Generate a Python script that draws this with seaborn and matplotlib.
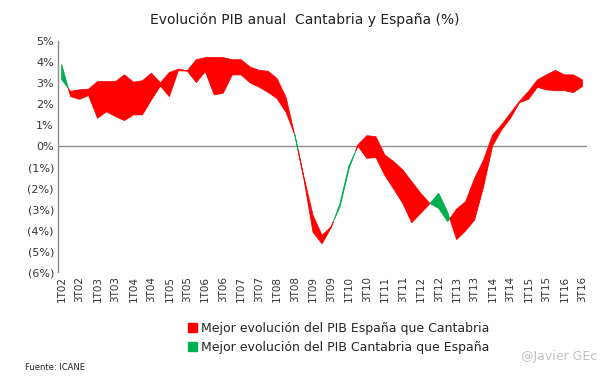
import numpy as np
import pandas as pd
import matplotlib
matplotlib.use("Agg")
import matplotlib.pyplot as plt
import seaborn as sns
from matplotlib.patches import Patch

# Quarterly YoY GDP growth (%), 1T02 .. 3T16
quarters = [f"{q}T{y:02d}" for y in range(2, 17) for q in (1, 2, 3, 4)][:59]

espana = [3.15, 2.60, 2.67, 2.70, 3.06, 3.06, 3.06, 3.38, 3.03, 3.10,
          3.46, 3.00, 3.49, 3.65, 3.58, 4.10, 4.20, 4.20, 4.20, 4.10,
          4.10, 3.75, 3.60, 3.55, 3.20, 2.30, 0.45, -1.50, -3.30, -4.25,
          -3.85, -2.90, -1.10, 0.05, 0.49, 0.44, -0.43, -0.75, -1.14, -1.70,
          -2.25, -2.73, -2.97, -3.60, -3.00, -2.65, -1.54, -0.67, 0.52, 1.00,
          1.56, 2.12, 2.59, 3.14, 3.38, 3.59, 3.38, 3.38, 3.14]

cantabria = [3.88, 2.35, 2.22, 2.40, 1.32, 1.63, 1.40, 1.21, 1.48, 1.48,
             2.19, 2.85, 2.35, 3.58, 3.56, 3.02, 3.54, 2.43, 2.51, 3.38,
             3.38, 3.00, 2.80, 2.55, 2.25, 1.60, 0.50, -1.60, -4.10, -4.65,
             -3.90, -2.75, -0.95, 0.00, -0.59, -0.54, -1.40, -2.05, -2.73, -3.65,
             -3.20, -2.75, -2.25, -3.15, -4.45, -4.03, -3.52, -1.94, 0.00, 0.76,
             1.32, 2.06, 2.22, 2.79, 2.67, 2.63, 2.63, 2.54, 2.83]

df = pd.DataFrame({"trimestre": quarters, "espana": espana, "cantabria": cantabria})
df["x"] = np.arange(len(df))

red = "#ff0000"
green = "#00b050"

sns.set_theme(style="white")
plt.rcParams["font.family"] = ["DejaVu Sans"]

fig = plt.figure(figsize=(6.05, 3.78), dpi=100)
ax = fig.add_axes([0.096, 0.280, 0.874, 0.612])

ax.fill_between(df["x"], df["espana"], df["cantabria"],
                where=df["espana"] >= df["cantabria"], interpolate=True,
                facecolor=red, edgecolor=red, linewidth=0.6)
ax.fill_between(df["x"], df["espana"], df["cantabria"],
                where=df["cantabria"] > df["espana"], interpolate=True,
                facecolor=green, edgecolor=green, linewidth=0.6)

ax.axhline(0, color="#8c8c8c", lw=1, zorder=0)

ax.set_xlim(-0.4, 58.5)
ax.set_ylim(-6, 5)
ax.set_yticks(range(-6, 6))
ax.set_yticklabels([f"({abs(v)}%)" if v < 0 else f"{v}%" for v in range(-6, 6)],
                   fontsize=8, color="#333333")
ax.set_xticks(df["x"][::2])
ax.set_xticklabels(df["trimestre"][::2], rotation=90, fontsize=7.5, color="#333333")
ax.tick_params(axis="both", length=0, pad=3)
ax.set_xlabel("")
ax.set_ylabel("")

sns.despine(ax=ax, top=True, right=True, bottom=True)
ax.spines["left"].set_color("#8c8c8c")
ax.spines["left"].set_linewidth(1)

fig.text(0.503, 0.947, "Evolución PIB anual  Cantabria y España (%)",
         ha="center", va="center", fontsize=10, color="#222222")

handles = [Patch(facecolor=red, edgecolor=red, label="Mejor evolución del PIB España que Cantabria"),
           Patch(facecolor=green, edgecolor=green, label="Mejor evolución del PIB Cantabria que España")]
fig.legend(handles=handles, loc="center", bbox_to_anchor=(0.56, 0.106), frameon=False,
           fontsize=9, handlelength=0.7, handleheight=0.7, handletextpad=0.3,
           labelspacing=0.45)

fig.text(0.041, 0.029, "Fuente: ICANE", fontsize=6, color="#222222", va="center")
fig.text(0.987, 0.058, "@Javier GEc", fontsize=9, color="#c0c0c0", ha="right", va="center")

fig.savefig("out.png", dpi=100)
